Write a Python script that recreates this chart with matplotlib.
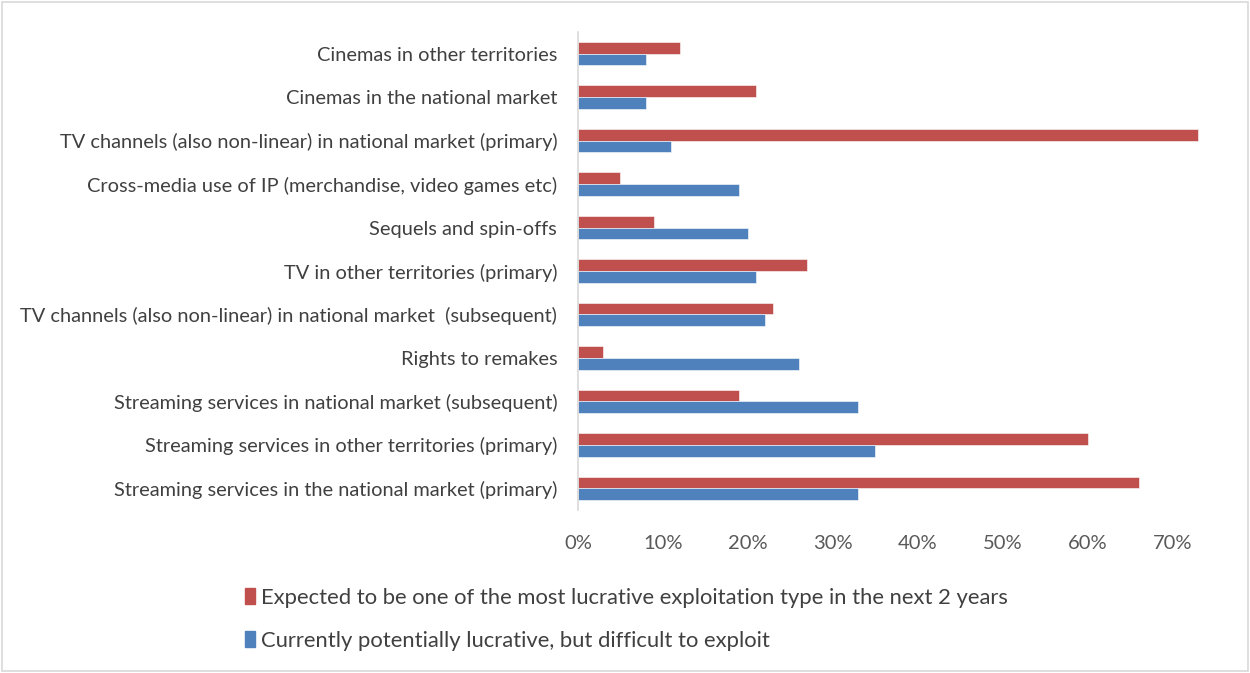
import numpy as np
import matplotlib
matplotlib.use("Agg")
import matplotlib.pyplot as plt
from matplotlib.ticker import PercentFormatter
from matplotlib.patches import Patch, Rectangle

categories = [
    "Cinemas in other territories",
    "Cinemas in the national market",
    "TV channels (also non-linear) in national market (primary)",
    "Cross-media use of IP (merchandise, video games etc)",
    "Sequels and spin-offs",
    "TV in other territories (primary)",
    "TV channels (also non-linear) in national market  (subsequent)",
    "Rights to remakes",
    "Streaming services in national market (subsequent)",
    "Streaming services in other territories (primary)",
    "Streaming services in the national market (primary)",
]
expected = [12, 21, 73, 5, 9, 27, 23, 3, 19, 60, 66]
difficult = [8, 8, 11, 19, 20, 21, 22, 26, 33, 35, 33]

label_expected = "Expected to be one of the most lucrative exploitation type in the next 2 years"
label_difficult = "Currently potentially lucrative, but difficult to exploit"

red = "#C0504D"
blue = "#4F81BD"
grey = "#595959"

plt.rcParams['font.family'] = ['Lato', 'DejaVu Sans']

fig = plt.figure(figsize=(12.5, 6.73), dpi=100)
ax = fig.add_axes([578/1250, 1-510/673, (1215-578)/1250, (510-32)/673])

y = np.arange(len(categories))
h = 0.27
ax.barh(y - h/2, expected, height=h, color=red, edgecolor="white", linewidth=0.4)
ax.barh(y + h/2, difficult, height=h, color=blue, edgecolor="white", linewidth=0.4)

ax.set_ylim(len(categories) - 0.5, -0.5)
ax.set_xlim(0, 75)
ax.set_xticks(np.arange(0, 71, 10))
ax.xaxis.set_major_formatter(PercentFormatter(xmax=100, decimals=0))
ax.set_yticks(y)
ax.set_yticklabels(categories, fontsize=14.4, color="#404040")
ax.tick_params(axis="y", length=0, pad=15)
ax.tick_params(axis="x", length=0, pad=18, labelsize=14.5, labelcolor=grey)

for s in ["top", "right", "bottom"]:
    ax.spines[s].set_visible(False)
ax.spines["left"].set_color("#D9D9D9")
ax.spines["left"].set_linewidth(1.2)

handles = [Patch(color=red), Patch(color=blue)]
fig.legend(handles, [label_expected, label_difficult], loc="upper left",
           bbox_to_anchor=(225/1250, 1-568/673), frameon=False, fontsize=15.8,
           labelcolor="#404040", handlelength=0.45, handleheight=0.75,
           handletextpad=0.3, labelspacing=1.05)

fig.patches.append(Rectangle((2/1250, 2/673), 1-4/1250, 1-4/673, transform=fig.transFigure,
                             fill=False, edgecolor="#D9D9D9", linewidth=1.2))

fig.savefig("out.png", dpi=100)
